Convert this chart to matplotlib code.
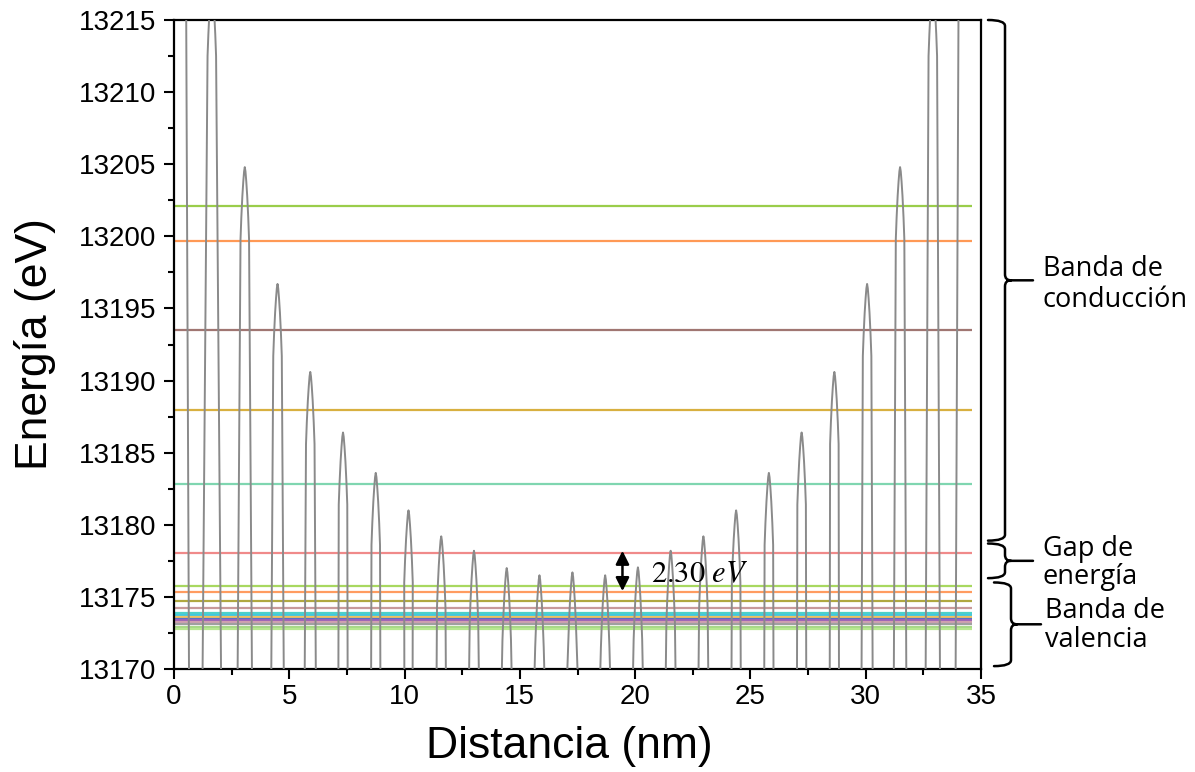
import matplotlib
matplotlib.use("Agg")
import matplotlib.pyplot as plt
import matplotlib.transforms as mtransforms
from matplotlib.path import Path
from matplotlib.patches import PathPatch
from matplotlib.ticker import MultipleLocator

# ---------------- data ----------------
# barrier (peak) centres along the structure (nm) and their top energies (eV)
peak_x = [1.64, 3.07, 4.49, 5.91, 7.33, 8.75, 10.17, 11.59, 13.01, 14.43, 15.85,
          17.28, 18.70, 20.12, 21.54, 22.96, 24.38, 25.80, 27.22, 28.64, 30.06,
          31.49, 32.91]
peak_E = [13217.5, 13204.8, 13196.7, 13190.6, 13186.4, 13183.6, 13181.0, 13179.2,
          13178.2, 13177.0, 13176.5, 13176.7, 13176.5, 13177.05, 13178.2, 13179.2,
          13181.0, 13183.6, 13186.4, 13190.6, 13196.7, 13204.8, 13217.5]
# half width of each barrier where it meets the 13170 eV floor (nm)
peak_base_hw = [0.40, 0.31, 0.27, 0.24, 0.20, 0.20, 0.18, 0.20, 0.21, 0.21, 0.21,
                0.22, 0.21, 0.21, 0.21, 0.21, 0.20, 0.20, 0.20, 0.20, 0.24, 0.27,
                0.31]
# shape of a barrier tip: depth below the top (eV) -> half width (nm)
tip_depth = [0.0, 0.3, 1.0, 2.0, 3.5, 5.0]
tip_hw = [0.0, 0.03, 0.065, 0.105, 0.15, 0.185]
# end walls of the structure
wall_left_x = [0.00, 0.53, 0.65]
wall_left_E = [13330.0, 13215.0, 13170.0]
wall_right_x = [33.90, 34.02, 34.55]
wall_right_E = [13170.0, 13215.0, 13330.0]
well_E = 13140.0

# energy eigen-levels (eV) and their colours
level_E = [13202.1, 13199.65, 13193.5, 13187.95, 13182.8, 13178.05,
           13175.75, 13175.35, 13174.73, 13174.22, 13173.85, 13173.72, 13173.62,
           13173.48, 13173.39, 13173.23, 13173.11, 13172.93, 13172.79]
level_colors = ["#9acd4a", "#ff9955", "#a07672", "#d8b040", "#7fd6b0", "#f08a8a",
                "#a8d860", "#ff9c60", "#b0a840", "#c89a9a", "#4fd0c8", "#40c8e0",
                "#f0c060", "#5070c8", "#9a60b8", "#d0a0b0", "#a0a0a0", "#a8d888",
                "#b8e890"]
level_x_end = 34.6

# band ranges (eV) for the braces
conduction = (13178.9, 13215.0)
gap = (13176.3, 13178.7)
valence = (13170.2, 13176.0)
gap_arrow = (13175.4, 13178.2)
gap_arrow_x = 19.45

# ---------------- figure ----------------
plt.rcParams["font.family"] = ["Liberation Sans", "DejaVu Sans"]
plt.rcParams["mathtext.fontset"] = "stix"

W, H = 1195, 772
fig = plt.figure(figsize=(W / 100, H / 100), dpi=100)
ax = fig.add_axes([174 / W, 1 - 669 / H, (981 - 174) / W, (669 - 20) / H])

# build the potential profile
xs, ys = [], []
xs += wall_left_x
ys += wall_left_E
prev_base = wall_left_x[-1]
for c, top, hwb in zip(peak_x, peak_E, peak_base_hw):
    left_base = c - hwb
    xs.append((prev_base + left_base) / 2)
    ys.append(well_E)
    xs.append(left_base)
    ys.append(13170.0)
    for d, hw in zip(tip_depth[::-1], tip_hw[::-1]):
        if top - d > 13170.0:
            xs.append(c - hw)
            ys.append(top - d)
    for d, hw in zip(tip_depth[1:], tip_hw[1:]):
        if top - d > 13170.0:
            xs.append(c + hw)
            ys.append(top - d)
    xs.append(c + hwb)
    ys.append(13170.0)
    prev_base = c + hwb
xs.append((prev_base + wall_right_x[0]) / 2)
ys.append(well_E)
xs += wall_right_x
ys += wall_right_E

for e, col in zip(level_E, level_colors):
    ax.hlines(e, 0, level_x_end, color=col, lw=1.6, zorder=2)

ax.plot(xs, ys, color="#8a8a8a", lw=1.4, zorder=3)

ax.set_xlim(0, 35)
ax.set_ylim(13170, 13215)
ax.xaxis.set_major_locator(MultipleLocator(5))
ax.xaxis.set_minor_locator(MultipleLocator(2.5))
ax.yaxis.set_major_locator(MultipleLocator(5))
ax.yaxis.set_minor_locator(MultipleLocator(2.5))
ax.tick_params(which="major", direction="out", length=7.5, width=1.5, labelsize=20)
ax.tick_params(which="minor", direction="out", length=4.5, width=1.5)
ax.tick_params(axis="y", which="major", pad=5)
ax.tick_params(axis="x", which="major", pad=3)
for s in ax.spines.values():
    s.set_linewidth(1.6)

ax.set_xlabel("Distancia (nm)", fontsize=32)
ax.set_ylabel("Energía (eV)", fontsize=32)
ax.xaxis.set_label_coords(0.49, -0.088)
ax.yaxis.set_label_coords(-0.146, 0.5)

# gap arrow + label
ax.annotate("", xy=(gap_arrow_x, gap_arrow[1]), xytext=(gap_arrow_x, gap_arrow[0]),
            arrowprops=dict(arrowstyle="<|-|>", color="black", lw=1.8,
                            shrinkA=0, shrinkB=0, mutation_scale=20), zorder=5)
ax.text(20.7, sum(gap_arrow) / 2 - 0.2, r"$\mathrm{2.30}\ eV$", fontsize=22,
        ha="left", va="center", zorder=5)

# braces on the right (x in axes fraction, y in data)
trans = mtransforms.blended_transform_factory(ax.transAxes, ax.transData)
px = 1.0 / (981 - 174)  # one pixel in axes fraction
ey = 45.0 / (669 - 20)  # one pixel in eV


def brace(lo, hi, x_vert, tip_len=28, hook=17, r=6):
    x1 = x_vert
    x0 = x1 - hook * px
    x2 = x1 + tip_len * px
    ym = (lo + hi) / 2
    rr = r * ey
    rx = r * px
    verts = [(x0, hi), (x1, hi), (x1, hi - rr),
             (x1, ym + rr), (x1, ym), (x1 + rx, ym), (x2, ym),
             (x1 + rx, ym), (x1, ym), (x1, ym - rr),
             (x1, lo + rr), (x1, lo), (x0, lo)]
    codes = [Path.MOVETO, Path.CURVE3, Path.CURVE3,
             Path.LINETO, Path.CURVE3, Path.CURVE3, Path.LINETO,
             Path.MOVETO, Path.CURVE3, Path.CURVE3,
             Path.LINETO, Path.CURVE3, Path.CURVE3]
    patch = PathPatch(Path(verts, codes), transform=trans, fill=False,
                      lw=1.8, color="black", clip_on=False, capstyle="round")
    ax.add_patch(patch)
    return x2, ym


xc = (1005 - 174) * px
brace(*conduction, xc)
brace(*gap, xc)
brace(*valence, (1011 - 174) * px, tip_len=30)

side_font = ["Open Sans", "DejaVu Sans"]
tx = (1043 - 174) * px
ax.text(tx, sum(conduction) / 2 - 0.3, "Banda de\nconducción", transform=trans,
        fontsize=19.5, family=side_font, ha="left", va="center", linespacing=1.15)
ax.text(tx, sum(gap) / 2 - 0.15, "Gap de\nenergía", transform=trans,
        fontsize=19.5, family=side_font, ha="left", va="center", linespacing=0.98)
ax.text(tx + 2 * px, sum(valence) / 2 - 0.1, "Banda de\nvalencia", transform=trans,
        fontsize=19.5, family=side_font, ha="left", va="center", linespacing=1.05)

fig.savefig("out.png", dpi=100)
